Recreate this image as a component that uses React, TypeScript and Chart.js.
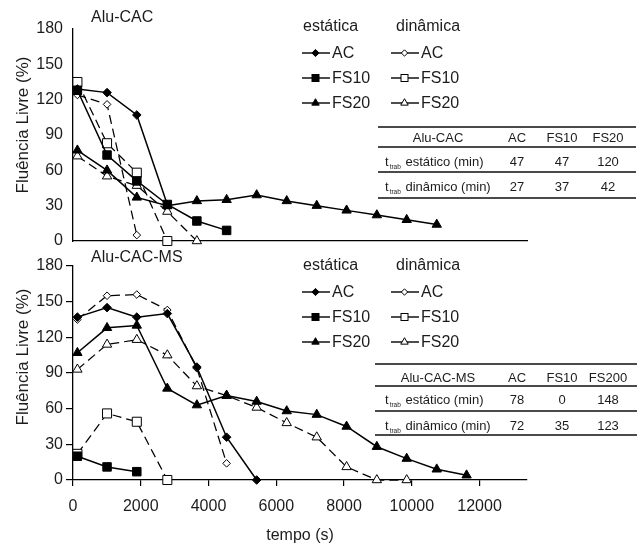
import React, { useEffect, useRef } from 'react';
import { Chart, registerables } from 'chart.js';

Chart.register(...registerables);

const FONT = '"Liberation Sans", Arial, Helvetica, sans-serif';
const TXT = '#1c1c1c';

// sampling times (s), shared by all series
const times = [130, 1005, 1883, 2784, 3656, 4534, 5421, 6308, 7194, 8075, 8968, 9849, 10736, 11617];
const xTicks = [0, 2000, 4000, 6000, 8000, 10000, 12000];
const yTicks = [0, 30, 60, 90, 120, 150, 180];

// Alu-CAC (free flow %)
const cacAcStatic = [129, 126, 107, 31];
const cacFs10Static = [128, 73, 51, 31, 17, 9];
const cacFs20Static = [77, 60, 37, 30, 34, 35, 39, 34, 30, 26, 22, 18, 14];
const cacAcDynamic = [124, 116, 5];
const cacFs10Dynamic = [135, 83, 58, 0];
const cacFs20Dynamic = [72, 55, 47, 25, 0];

// Alu-CAC-MS (free flow %)
const msAcStatic = [137, 145, 137, 140, 95, 36, 0];
const msFs10Static = [20, 11, 7];
const msFs20Static = [107, 128, 130, 77, 63, 71, 66, 58, 55, 45, 28, 18, 9, 4];
const msAcDynamic = [135, 155, 156, 143, 94, 14];
const msFs10Dynamic = [22, 56, 49, 0];
const msFs20Dynamic = [93, 114, 118, 105, 79, 71, 61, 48, 36, 11, 0, 0];

const seriesNames = ['AC', 'FS10', 'FS20'];
const legendHeaders = ['estática', 'dinâmica'];

const cacTableHeader = ['Alu-CAC', 'AC', 'FS10', 'FS20'];
const cacTableStatic = [47, 47, 120];
const cacTableDynamic = [27, 37, 42];
const msTableHeader = ['Alu-CAC-MS', 'AC', 'FS10', 'FS200'];
const msTableStatic = [78, 0, 148];
const msTableDynamic = [72, 35, 123];

const STYLES: Record<string, { ps: string; rs: number; rd: number }> = {
  AC: { ps: 'rectRot', rs: 4.3, rd: 3.8 },
  FS10: { ps: 'rect', rs: 6, rd: 6.4 },
  FS20: { ps: 'triangle', rs: 5.4, rd: 5.4 },
};

function ds(vals: number[], name: string, dynamic: boolean) {
  const st = STYLES[name];
  return {
    label: name + (dynamic ? ' dinâmica' : ' estática'),
    data: vals.map((y, i) => ({ x: times[i], y })),
    borderColor: '#000',
    borderWidth: dynamic ? 1.25 : 1.5,
    borderDash: dynamic ? [9, 5] : [],
    pointStyle: st.ps,
    pointRadius: dynamic ? st.rd : st.rs,
    pointBackgroundColor: dynamic ? '#fff' : '#000',
    pointBorderColor: '#000',
    pointBorderWidth: 1,
    tension: 0,
    fill: false,
    clip: false as any,
  };
}

function makeConfig(sets: any[], bottom: boolean) {
  return {
    type: 'line' as const,
    data: { datasets: sets },
    options: {
      animation: false as const,
      responsive: false,
      events: [],
      layout: { padding: { left: 0, right: 114, top: bottom ? 16 : 29, bottom: 0 } },
      plugins: { legend: { display: false }, tooltip: { enabled: false } },
      scales: {
        x: {
          type: 'linear' as const,
          min: 0,
          max: 13400,
          afterBuildTicks: (s: any) => {
            s.ticks = xTicks.map((v) => ({ value: v }));
          },
          afterFit: (s: any) => {
            s.height = bottom ? 65 : 29;
          },
          grid: bottom
            ? { display: true, drawOnChartArea: false, drawTicks: true, tickLength: 6, color: '#000', lineWidth: 1.2 }
            : { display: false, drawTicks: false },
          border: { display: true, color: '#000', width: 1.3 },
          ticks: {
            display: bottom,
            font: { family: FONT, size: 16 },
            color: TXT,
            padding: 11,
            maxRotation: 0,
            callback: (v: any) => String(v),
          },
          title: {
            display: bottom,
            text: 'tempo (s)',
            font: { family: FONT, size: 16 },
            color: TXT,
            padding: { top: 0, bottom: 0 },
          },
        },
        y: {
          min: 0,
          max: 180,
          afterBuildTicks: (s: any) => {
            s.ticks = yTicks.map((v) => ({ value: v }));
          },
          afterFit: (s: any) => {
            s.width = 73;
          },
          grid: bottom
            ? { display: true, drawOnChartArea: false, drawTicks: true, tickLength: 7, color: '#000', lineWidth: 1.2 }
            : { display: false, drawTicks: false },
          border: { display: true, color: '#000', width: 1.3 },
          ticks: {
            font: { family: FONT, size: 16 },
            color: TXT,
            padding: bottom ? 3 : 10,
            callback: (v: any) => String(v),
          },
        },
      },
    },
  };
}

function ChartCanvas({ sets, bottom, top, height }: { sets: any[]; bottom: boolean; top: number; height: number }) {
  const ref = useRef<HTMLCanvasElement | null>(null);
  useEffect(() => {
    if (!ref.current) return;
    const chart = new Chart(ref.current, makeConfig(sets, bottom) as any);
    return () => chart.destroy();
  }, []);
  return (
    <canvas
      ref={ref}
      width={641}
      height={height}
      style={{ position: 'absolute', left: 0, top, width: 641, height, display: 'block' }}
    />
  );
}

function T({ x, y, size = 16, align = 'left', children }: any) {
  const lh = Math.round(size * 1.25);
  const style: any = {
    position: 'absolute',
    top: y - lh / 2,
    left: x,
    fontSize: size,
    lineHeight: lh + 'px',
    fontFamily: FONT,
    color: TXT,
    whiteSpace: 'nowrap',
  };
  if (align === 'center') style.transform = 'translateX(-50%)';
  if (align === 'right') style.transform = 'translateX(-100%)';
  return <div style={style}>{children}</div>;
}

function YTitle({ cx, cy }: { cx: number; cy: number }) {
  return (
    <div
      style={{
        position: 'absolute',
        left: cx,
        top: cy,
        transform: 'translate(-50%, -50%) rotate(-90deg)',
        fontFamily: FONT,
        fontSize: 17,
        lineHeight: '20px',
        color: TXT,
        whiteSpace: 'nowrap',
      }}
    >
      Fluência Livre (%)
    </div>
  );
}

function Marker({ name, dynamic }: { name: string; dynamic: boolean }) {
  const fill = dynamic ? '#fff' : '#000';
  const cx = 13.5;
  const cy = 6;
  let shape: any = null;
  if (name === 'AC') {
    const r = dynamic ? 3.2 : 3.6;
    shape = <polygon points={`${cx - r},${cy} ${cx},${cy - r} ${cx + r},${cy} ${cx},${cy + r}`} fill={fill} stroke="#000" strokeWidth={1} />;
  } else if (name === 'FS10') {
    const s = 7;
    shape = <rect x={cx - s / 2} y={cy - s / 2} width={s} height={s} fill={fill} stroke="#000" strokeWidth={1} />;
  } else {
    const r = 4.3;
    shape = (
      <polygon
        points={`${cx},${cy - r} ${cx + r * 0.866},${cy + r / 2} ${cx - r * 0.866},${cy + r / 2}`}
        fill={fill}
        stroke="#000"
        strokeWidth={1}
      />
    );
  }
  return (
    <svg width={28} height={12} style={{ display: 'block' }}>
      <line x1={0} y1={cy} x2={28} y2={cy} stroke="#000" strokeWidth={1.4} />
      {shape}
    </svg>
  );
}

function Legend({ headerY, rowYs }: { headerY: number; rowYs: number[] }) {
  return (
    <>
      <T x={303} y={headerY}>{legendHeaders[0]}</T>
      <T x={396} y={headerY}>{legendHeaders[1]}</T>
      {seriesNames.map((n, i) => (
        <React.Fragment key={n}>
          <div style={{ position: 'absolute', left: 302, top: rowYs[i] - 6 }}>
            <Marker name={n} dynamic={false} />
          </div>
          <T x={332} y={rowYs[i]}>{n}</T>
          <div style={{ position: 'absolute', left: 391, top: rowYs[i] - 6 }}>
            <Marker name={n} dynamic={true} />
          </div>
          <T x={421} y={rowYs[i]}>{n}</T>
        </React.Fragment>
      ))}
    </>
  );
}

function Rule({ x0, x1, y, w }: { x0: number; x1: number; y: number; w: number }) {
  return <div style={{ position: 'absolute', left: x0, top: y - w / 2, width: x1 - x0, height: w, background: '#4a4a4a' }} />;
}

function RowLabel({ text }: { text: string }) {
  return (
    <span>
      t<span style={{ fontSize: 6.5, position: 'relative', top: 3, margin: '0 1px' }}>trab</span> {text}
    </span>
  );
}

function DataTable({
  x0,
  x1,
  rules,
  rows,
  header,
  stat,
  dyn,
}: {
  x0: number;
  x1: number;
  rules: number[];
  rows: number[];
  header: string[];
  stat: number[];
  dyn: number[];
}) {
  const cols = [517, 562, 608];
  const S = 13;
  return (
    <>
      <Rule x0={x0} x1={x1} y={rules[0]} w={2} />
      <Rule x0={x0} x1={x1} y={rules[1]} w={1.2} />
      <Rule x0={x0} x1={x1} y={rules[2]} w={1.2} />
      <Rule x0={x0} x1={x1} y={rules[3]} w={2} />
      <T x={438} y={rows[0]} size={S} align="center">{header[0]}</T>
      {cols.map((c, i) => (
        <T key={'h' + i} x={c} y={rows[0]} size={S} align="center">{header[i + 1]}</T>
      ))}
      <T x={385} y={rows[1]} size={S}>
        <RowLabel text="estático (min)" />
      </T>
      <T x={385} y={rows[2]} size={S}>
        <RowLabel text="dinâmico (min)" />
      </T>
      {cols.map((c, i) => (
        <T key={'s' + i} x={c} y={rows[1]} size={S} align="center">{stat[i]}</T>
      ))}
      {cols.map((c, i) => (
        <T key={'d' + i} x={c} y={rows[2]} size={S} align="center">{dyn[i]}</T>
      ))}
    </>
  );
}

export default function App() {
  const topSets = [
    ds(cacAcStatic, 'AC', false),
    ds(cacFs10Static, 'FS10', false),
    ds(cacFs20Static, 'FS20', false),
    ds(cacAcDynamic, 'AC', true),
    ds(cacFs10Dynamic, 'FS10', true),
    ds(cacFs20Dynamic, 'FS20', true),
  ];
  const bottomSets = [
    ds(msAcStatic, 'AC', false),
    ds(msFs10Static, 'FS10', false),
    ds(msFs20Static, 'FS20', false),
    ds(msAcDynamic, 'AC', true),
    ds(msFs10Dynamic, 'FS10', true),
    ds(msFs20Dynamic, 'FS20', true),
  ];
  return (
    <div style={{ position: 'absolute', left: 0, top: 0, width: 641, height: 545, background: '#fff', overflow: 'hidden' }}>
      <ChartCanvas sets={topSets} bottom={false} top={0} height={270} />
      <ChartCanvas sets={bottomSets} bottom={true} top={250} height={295} />
      <YTitle cx={23} cy={125} />
      <YTitle cx={23} cy={357} />
      <T x={91} y={17}>Alu-CAC</T>
      <T x={91} y={257}>Alu-CAC-MS</T>
      <Legend headerY={26} rowYs={[53, 78, 103]} />
      <Legend headerY={265} rowYs={[292, 317, 342]} />
      <DataTable
        x0={378}
        x1={636}
        rules={[127, 147, 172, 198]}
        rows={[138, 162, 187]}
        header={cacTableHeader}
        stat={cacTableStatic}
        dyn={cacTableDynamic}
      />
      <DataTable
        x0={375}
        x1={637}
        rules={[364, 386, 411, 435]}
        rows={[378, 400, 426]}
        header={msTableHeader}
        stat={msTableStatic}
        dyn={msTableDynamic}
      />
    </div>
  );
}
